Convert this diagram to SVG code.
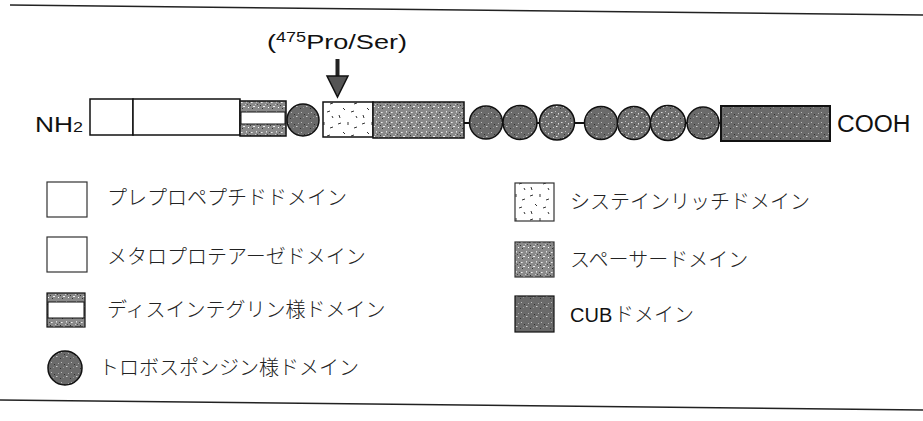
<svg xmlns="http://www.w3.org/2000/svg" width="923" height="421" viewBox="0 0 923 421">
<style>
.bx{stroke:#111;stroke-width:1.5}
.lat{font-family:"Liberation Sans",Arial,sans-serif;fill:#111}
.jp{font-family:"Noto Sans CJK JP","Noto Sans",sans-serif;font-size:20px;font-weight:300;fill:#222}
</style>
<defs>
<pattern id="spacer" width="10" height="10" patternUnits="userSpaceOnUse">
<rect width="10" height="10" fill="#8a8a8a"/>
<rect x="1" y="2" width="1.6" height="1" fill="#eee"/>
<rect x="6" y="1" width="1" height="1.6" fill="#ddd"/>
<rect x="3" y="6" width="2" height="1" fill="#eee"/>
<rect x="8" y="7" width="1" height="1" fill="#fff"/>
<rect x="5" y="4" width="1" height="1" fill="#ccc"/>
<rect x="2" y="8" width="1" height="1" fill="#333"/>
<rect x="7" y="4" width="1" height="1" fill="#444"/>
<rect x="0" y="5" width="1" height="1" fill="#333"/>
<rect x="9" y="2" width="1" height="1" fill="#444"/>
</pattern>
<pattern id="dark" width="10" height="10" patternUnits="userSpaceOnUse">
<rect width="10" height="10" fill="#6a6a6a"/>
<rect x="1" y="2" width="1" height="1" fill="#bbb"/>
<rect x="6" y="6" width="1.5" height="1" fill="#ccc"/>
<rect x="3" y="7" width="1" height="1" fill="#999"/>
<rect x="8" y="3" width="1" height="1" fill="#aaa"/>
<rect x="4" y="4" width="1" height="1" fill="#333"/>
<rect x="0" y="8" width="1" height="1" fill="#333"/>
</pattern>
<pattern id="dark2" width="10" height="10" patternUnits="userSpaceOnUse">
<rect width="10" height="10" fill="#707070"/>
<rect x="1" y="2" width="1.5" height="1" fill="#ddd"/>
<rect x="6" y="6" width="1.5" height="1" fill="#eee"/>
<rect x="3" y="7" width="1" height="1" fill="#ccc"/>
<rect x="8" y="3" width="1" height="1.5" fill="#ddd"/>
<rect x="5" y="1" width="1" height="1" fill="#bbb"/>
<rect x="4" y="4" width="1" height="1" fill="#333"/>
<rect x="0" y="8" width="1" height="1" fill="#333"/>
</pattern>
<pattern id="cys" width="24" height="24" patternUnits="userSpaceOnUse">
<rect width="24" height="24" fill="#fff"/>
<g stroke="#333" stroke-width="1">
<line x1="2" y1="4" x2="5" y2="3"/>
<line x1="12" y1="2" x2="12" y2="5"/>
<line x1="18" y1="8" x2="21" y2="7"/>
<line x1="7" y1="12" x2="9" y2="14"/>
<line x1="15" y1="16" x2="18" y2="15"/>
<line x1="3" y1="19" x2="4" y2="22"/>
<line x1="20" y1="20" x2="21" y2="22"/>
</g>
</pattern>
</defs>
<rect width="923" height="421" fill="#fff"/>
<!-- frame rules -->
<line x1="10" y1="5" x2="923" y2="15" stroke="#222" stroke-width="1.5"/>
<line x1="0" y1="400" x2="923" y2="410" stroke="#222" stroke-width="1.5"/>

<g id="connectors">
<line x1="464" y1="123" x2="721" y2="123" stroke="#111" stroke-width="2"/>
<rect x="335.5" y="59" width="4" height="18" fill="#222"/>
<polygon points="327,76 348,76 337.5,97" fill="#555" stroke="#111" stroke-width="1.5"/>
</g>

<g id="mutation-label">
<text class="lat" x="267" y="49" font-size="21" textLength="140" lengthAdjust="spacingAndGlyphs">(<tspan font-size="14" dy="-7">475</tspan><tspan dy="7">Pro/Ser)</tspan></text>
</g>

<g id="nh2"><text class="lat" x="35" y="132" font-size="22" textLength="48" lengthAdjust="spacingAndGlyphs">NH<tspan font-size="15">2</tspan></text></g>
<g id="prepro"><rect class="bx" x="90" y="99" width="43" height="36" fill="#fff"/></g>
<g id="metallo"><rect class="bx" x="133" y="99" width="107" height="36" fill="#fff"/></g>
<g id="disintegrin">
<rect class="bx" x="240" y="101" width="46" height="35" fill="url(#spacer)"/>
<rect x="241" y="112" width="44" height="12" fill="#fff" stroke="#111" stroke-width="1"/>
</g>
<g id="tsp1"><circle class="bx" cx="303" cy="120" r="16" fill="url(#dark)"/></g>
<g id="cysrich"><rect class="bx" x="323" y="102" width="50" height="35" fill="url(#cys)"/></g>
<g id="spacer-domain"><rect class="bx" x="373" y="102" width="91" height="36" fill="url(#spacer)"/></g>
<g id="tsp-repeats">
<circle class="bx" cx="486" cy="122.5" r="16.5" fill="url(#dark)"/>
<circle class="bx" cx="520" cy="122.5" r="17" fill="url(#dark)"/>
<circle class="bx" cx="557" cy="122.5" r="17.5" fill="url(#dark2)"/>
<circle class="bx" cx="601" cy="123" r="16.5" fill="url(#dark)"/>
<circle class="bx" cx="634" cy="123" r="16.5" fill="url(#dark2)"/>
<circle class="bx" cx="668" cy="123" r="17.5" fill="url(#dark2)"/>
<circle class="bx" cx="703" cy="123" r="16" fill="url(#dark)"/>
</g>
<g id="cub"><rect x="721" y="106" width="109" height="35" fill="url(#dark)" stroke="#111" stroke-width="2"/></g>
<g id="cooh"><text class="lat" x="837" y="132" font-size="24.5">COOH</text></g>

<g id="legend-prepro">
<rect x="47" y="182" width="40" height="35" fill="#fff" stroke="#333" stroke-width="1.2"/>
<text class="jp" x="107" y="205">プレプロペプチドドメイン</text>
</g>
<g id="legend-metallo">
<rect x="47" y="237" width="40" height="35" fill="#fff" stroke="#333" stroke-width="1.2"/>
<text class="jp" x="107" y="264">メタロプロテアーゼドメイン</text>
</g>
<g id="legend-disintegrin">
<rect x="47" y="293" width="38" height="34" fill="url(#spacer)" stroke="#111" stroke-width="1.2"/>
<rect x="48" y="302" width="36" height="16" fill="#fff" stroke="#111" stroke-width="1"/>
<text class="jp" x="107" y="317">ディスインテグリン様ドメイン</text>
</g>
<g id="legend-tsp">
<circle cx="65" cy="368" r="17" fill="url(#dark)" stroke="#111" stroke-width="1.5"/>
<text class="jp" x="99" y="375">トロボスポンジン様ドメイン</text>
</g>
<g id="legend-cys">
<rect x="515" y="183" width="39" height="38" fill="url(#cys)" stroke="#333" stroke-width="1.2"/>
<text class="jp" x="570" y="209">システインリッチドメイン</text>
</g>
<g id="legend-spacer">
<rect x="515" y="242" width="39" height="35" fill="url(#spacer)" stroke="#333" stroke-width="1.2"/>
<text class="jp" x="570" y="267">スペーサードメイン</text>
</g>
<g id="legend-cub">
<rect x="515" y="296" width="39" height="36" fill="url(#dark)" stroke="#111" stroke-width="1.2"/>
<text class="lat" x="570" y="322" font-size="20">CUB</text><text class="jp" x="614" y="322">ドメイン</text>
</g>
</svg>
